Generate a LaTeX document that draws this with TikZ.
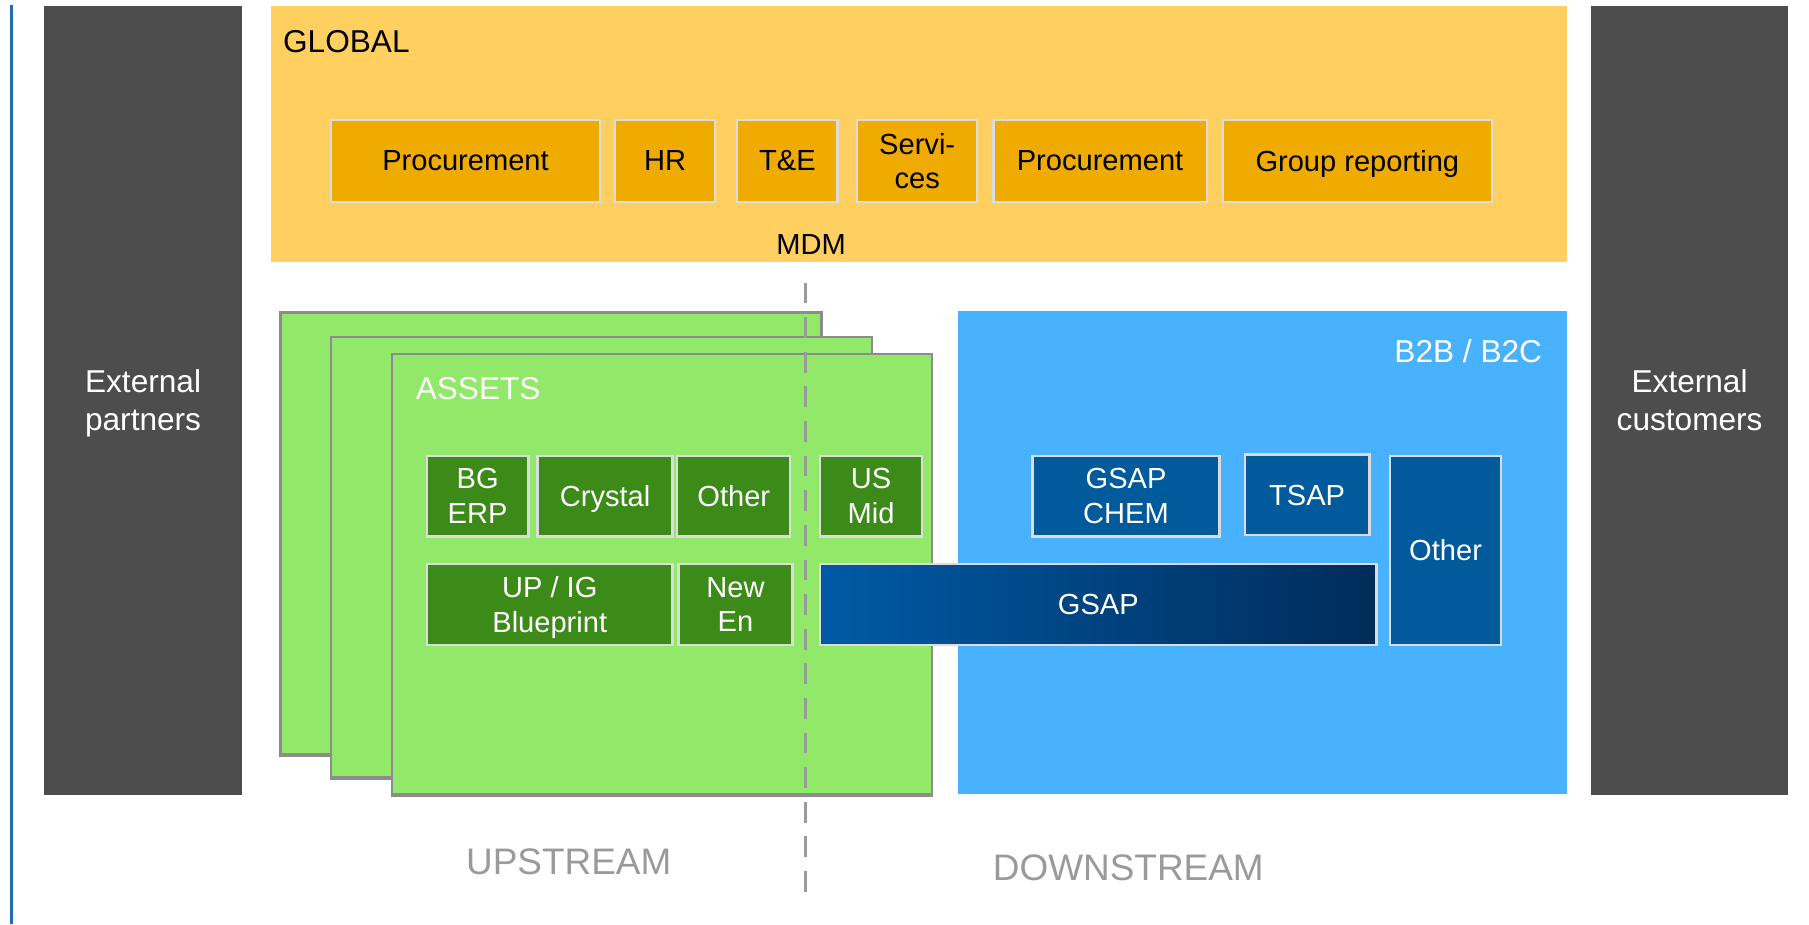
\documentclass[tikz,border=0pt]{standalone}
\usepackage{fontspec}
\setmainfont{Liberation Sans}
\usetikzlibrary{fit}
\definecolor{dgray}{HTML}{4D4D4D}
\definecolor{gyellow}{HTML}{FFD05F}
\definecolor{gorange}{HTML}{F0AB00}
\definecolor{lgreen}{HTML}{92E868}
\definecolor{dgreen}{HTML}{3C8A17}
\definecolor{skyblue}{HTML}{48B2FF}
\definecolor{dblue}{HTML}{005A9C}
\definecolor{gsapL}{HTML}{005AA5}
\definecolor{gsapR}{HTML}{002C5A}
\definecolor{pagegray}{HTML}{8C8C8C}
\definecolor{edgegray}{HTML}{DCDCDC}
\definecolor{labgray}{HTML}{9A9A9A}
\definecolor{sideblue}{HTML}{1F6DB0}
\tikzset{
 area/.style={inner sep=0pt, outer sep=0pt, draw=none},
 sz/.style 2 args={minimum width=#1, minimum height=#2},
 smallbox/.style={inner sep=0pt, draw=edgegray, line width=1pt, align=center, text depth=0pt, font=\fontsize{12.6}{15}\selectfont},
 orangebox/.style={smallbox, fill=gorange, text=black},
 greenbox/.style={smallbox, fill=dgreen, text=white},
 bluebox/.style={smallbox, fill=dblue, text=white},
 page/.style={inner sep=0pt, fill=lgreen, draw=pagegray, line width=1pt},
 head/.style={font=\fontsize{13.7}{16.5}\selectfont, inner sep=0pt, align=center},
 small/.style={font=\fontsize{12.6}{15}\selectfont, inner sep=0pt},
 streamlabel/.style={font=\fontsize{16}{19}\selectfont, text=labgray, inner sep=0pt},
 divider/.style={labgray, line width=1.5pt, dash pattern=on 9pt off 6pt},
}
\begin{document}
\begin{tikzpicture}[x=0.5pt,y=-0.5pt]
\useasboundingbox (0,0) rectangle (1568,801);
% left edge rule
\coordinate (ruletop) at (10,4);
\coordinate (rulebot) at (10,801);
\draw[sideblue, line width=1pt] (ruletop) -- (rulebot);
% side columns
\node[area, head, text depth=0pt, fill=dgray, text=white, sz={86pt}{342pt}] (partners) at (124,347) {External\\partners};
\node[area, head, text depth=0pt, fill=dgray, text=white, sz={85.5pt}{342pt}] (customers) at (1464.5,347) {External\\customers};
% global band
\node[area, fill=gyellow, fit={(235,5) (1358,227)}] (global) {};
\node[head, anchor=west] (globallbl) at (245,36) {GLOBAL};
\node[orangebox, sz={116.5pt}{35.5pt}] (proc1) at (403.5,139.5) {Procurement};
\node[orangebox, sz={43.5pt}{35.5pt}] (hr) at (576.5,139.5) {HR};
\node[orangebox, sz={43.5pt}{35.5pt}] (te) at (682.5,139.5) {T\&E};
\node[orangebox, sz={52pt}{35.5pt}] (serv) at (795,139.5) {Servi-\\ces};
\node[orangebox, sz={92.5pt}{35.5pt}] (proc2) at (953.5,139.5) {Procurement};
\node[orangebox, sz={116.5pt}{35.5pt}] (grp) at (1176.5,139.5) {Group reporting};
\node[small] (mdm) at (703,212) {MDM};
% assets pages
\node[page, fit={(243,271) (712,654)}] (page3) {};
\draw[pagegray, line width=1.5pt] (page3.south west) -- (page3.south east);
\node[page, fit={(287,292) (756,674)}] (page2) {};
\draw[pagegray, line width=1.5pt] (page2.south west) -- (page2.south east);
\node[page, fit={(340,307) (808,688)}] (page1) {};
\draw[pagegray, line width=1.5pt] (page1.south west) -- (page1.south east);
\node[head, text=white, anchor=west] (assets) at (360,337) {ASSETS};
% downstream area
\node[area, fill=skyblue, fit={(830,270) (1358,688)}] (b2b) {};
\node[head, text=white, anchor=east] (b2blbl) at (1337,304) {B2B / B2C};
% divider
\coordinate (divtop) at (698,245);
\coordinate (divbot) at (698,775);
\draw[divider] (divtop) -- (divbot);
% green systems
\node[greenbox, sz={44pt}{35pt}] (bgerp) at (414,430) {BG\\ERP};
\node[greenbox, sz={58.5pt}{35pt}] (crystal) at (524.5,430) {Crystal};
\node[greenbox, sz={49pt}{35pt}] (othera) at (636,430) {Other};
\node[greenbox, sz={44pt}{35pt}] (usmid) at (755,430) {US\\Mid};
\node[greenbox, sz={106.5pt}{35pt}] (upig) at (476.5,524) {UP / IG\\Blueprint};
\node[greenbox, sz={49.5pt}{35pt}] (newen) at (637.5,524) {New\\En};
% blue systems
\node[bluebox, sz={81pt}{35pt}] (gsapchem) at (976,430) {GSAP\\CHEM};
\node[bluebox, sz={54pt}{35pt}] (tsap) at (1133,429) {TSAP};
\node[bluebox, sz={48pt}{82pt}] (otherb) at (1253,477) {Other};
\node[smallbox, left color=gsapL, right color=gsapR, text=white, sz={241pt}{35pt}] (gsap) at (952,524) {GSAP};
% stream labels
\node[streamlabel] (up) at (493,747) {UPSTREAM};
\node[streamlabel] (down) at (978,752) {DOWNSTREAM};
\end{tikzpicture}
\end{document}
